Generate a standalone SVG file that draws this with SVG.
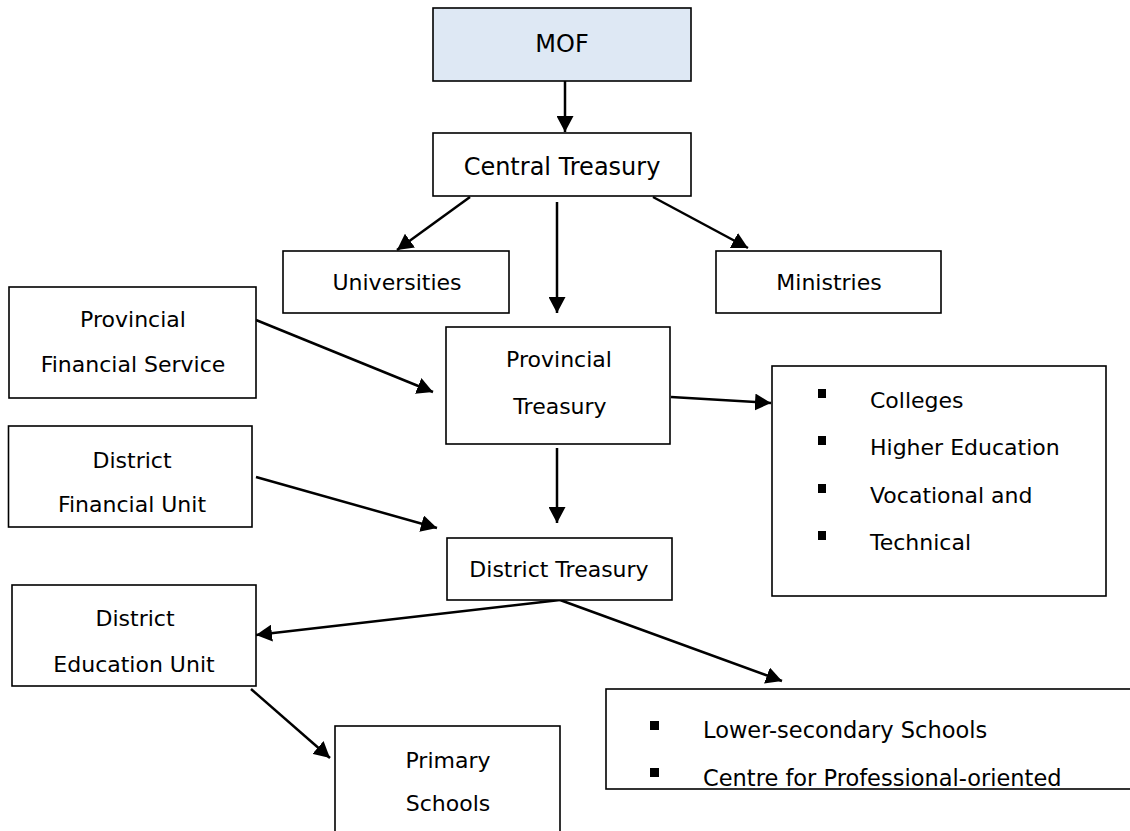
<svg xmlns="http://www.w3.org/2000/svg" width="1130" height="831" viewBox="0 0 1130 831">
<style>
.box{fill:#fff;stroke:#000;stroke-width:1.6}
.mof{fill:#dee8f4;stroke:#000;stroke-width:1.6}
.t{font-family:"DejaVu Sans","Liberation Sans",sans-serif;font-size:22px;fill:#000;text-anchor:middle}
.l{font-family:"DejaVu Sans","Liberation Sans",sans-serif;font-size:22px;fill:#000;text-anchor:start}
.big{font-size:24px}
.lw{font-size:22.5px}
.bul{fill:#000}
.arr{stroke:#000;stroke-width:2.5;fill:none;marker-end:url(#ah)}
</style>
<defs>
<marker id="ah" viewBox="0 0 16 17" refX="16" refY="8.5" markerWidth="16" markerHeight="17" markerUnits="userSpaceOnUse" orient="auto">
<path d="M0,0 L16,8.5 L0,17 z" fill="#000"/>
</marker>
</defs>
<rect width="1130" height="831" fill="#fff"/>
<g id="connectors">
<line class="arr" x1="565" y1="81" x2="565" y2="132"/>
<line class="arr" x1="470" y1="197" x2="397" y2="250"/>
<line class="arr" x1="557" y1="202" x2="557" y2="313"/>
<line class="arr" x1="653" y1="197" x2="748" y2="248"/>
<line class="arr" x1="256" y1="320" x2="433" y2="392"/>
<line class="arr" x1="671" y1="397" x2="771" y2="403"/>
<line class="arr" x1="256" y1="477" x2="437" y2="528"/>
<line class="arr" x1="557" y1="448" x2="557" y2="523"/>
<line class="arr" x1="560" y1="600" x2="256" y2="635"/>
<line class="arr" x1="560" y1="600" x2="782" y2="681"/>
<line class="arr" x1="251" y1="689" x2="330" y2="758"/>
</g>
<g id="mof">
<rect class="mof" x="433" y="8" width="258" height="73"/>
<text class="t big" x="562" y="52">MOF</text>
</g>
<g id="central-treasury">
<rect class="box" x="433" y="133" width="258" height="63"/>
<text class="t big" x="562" y="175">Central Treasury</text>
</g>
<g id="universities">
<rect class="box" x="283" y="251" width="226" height="62"/>
<text class="t" x="397" y="290">Universities</text>
</g>
<g id="ministries">
<rect class="box" x="716" y="251" width="225" height="62"/>
<text class="t" x="829" y="290">Ministries</text>
</g>
<g id="provincial-financial-service">
<rect class="box" x="9" y="287" width="247" height="111"/>
<text class="t" x="133" y="327">Provincial</text>
<text class="t" x="133" y="372">Financial Service</text>
</g>
<g id="provincial-treasury">
<rect class="box" x="446" y="327" width="224" height="117"/>
<text class="t" x="559" y="367">Provincial</text>
<text class="t" x="560" y="414">Treasury</text>
</g>
<g id="colleges-box">
<rect class="box" x="772" y="366" width="334" height="230"/>
<rect class="bul" x="818" y="389" width="8" height="9"/>
<rect class="bul" x="818" y="436" width="8" height="9"/>
<rect class="bul" x="818" y="484" width="8" height="9"/>
<rect class="bul" x="818" y="531" width="8" height="9"/>
<text class="l" x="870" y="408">Colleges</text>
<text class="l" x="870" y="455">Higher Education</text>
<text class="l" x="870" y="503">Vocational and</text>
<text class="l" x="870" y="550">Technical</text>
</g>
<g id="district-financial-unit">
<rect class="box" x="8.5" y="426" width="243.5" height="101"/>
<text class="t" x="132" y="468">District</text>
<text class="t" x="132" y="512">Financial Unit</text>
</g>
<g id="district-treasury">
<rect class="box" x="447" y="538" width="225" height="62"/>
<text class="t" x="559" y="577">District Treasury</text>
</g>
<g id="district-education-unit">
<rect class="box" x="12" y="585" width="244" height="101"/>
<text class="t" x="135" y="626">District</text>
<text class="t" x="134" y="672">Education Unit</text>
</g>
<g id="primary-schools">
<rect class="box" x="335" y="726" width="225" height="110"/>
<text class="t" x="448" y="768">Primary</text>
<text class="t" x="448" y="811">Schools</text>
</g>
<g id="lower-secondary-box">
<rect class="box" x="606" y="689" width="540" height="100"/>
<rect class="bul" x="650" y="721" width="9" height="9"/>
<rect class="bul" x="650" y="768" width="9" height="9"/>
<text class="l lw" x="703" y="738">Lower-secondary Schools</text>
<text class="l lw" x="703" y="786">Centre for Professional-oriented</text>
</g>
</svg>
